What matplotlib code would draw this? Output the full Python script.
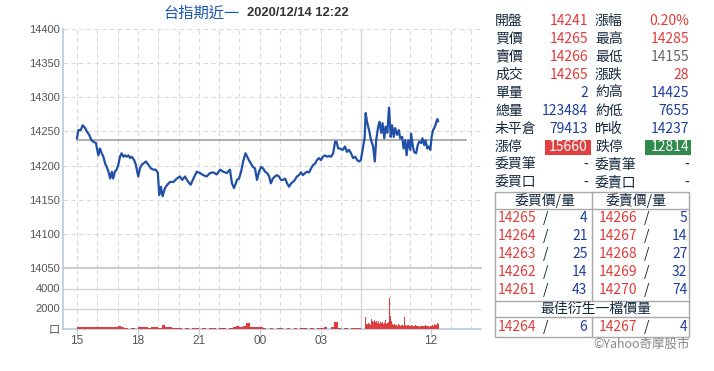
import matplotlib
matplotlib.use("Agg")
import matplotlib.pyplot as plt
from matplotlib.patches import Rectangle
from matplotlib.lines import Line2D

# ---------------- data ----------------
prev_close = 14237
# night session: minutes after 15:00
night_min = [0, 4, 11, 17, 24, 29, 36, 43, 48, 56,
             63, 68, 73, 78, 83, 88, 93, 98, 103, 107,
             112, 117, 122, 127, 132, 137, 142, 147, 152, 157,
             162, 169, 174, 181, 186, 191, 196, 204, 211, 218,
             226, 233, 239, 243, 248, 253, 260, 267, 275, 285,
             295, 304, 311, 319, 329, 336, 344, 354, 364, 373,
             383, 393, 403, 413, 423, 432, 443, 452, 458, 464,
             468, 473, 479, 485, 491, 498, 503, 508, 514, 520,
             526, 532, 538, 544, 550, 556, 562, 568, 573, 579,
             585, 591, 597, 603, 609, 615, 621, 627, 633, 638,
             644, 650, 656, 662, 668, 674, 680, 686, 692, 698,
             704, 709, 715, 721, 727, 733, 739, 745, 751, 757,
             763, 767, 772, 777, 786, 792, 798, 804, 810, 816,
             822, 828, 834, 839]
night_price = [14240, 14252, 14252, 14259, 14255, 14250, 14245, 14237, 14235, 14233,
               14215, 14225, 14218, 14213, 14203, 14198, 14191, 14181, 14191, 14181,
               14191, 14194, 14201, 14213, 14218, 14213, 14215, 14213, 14215, 14211,
               14213, 14208, 14201, 14184, 14196, 14201, 14203, 14206, 14201, 14196,
               14194, 14194, 14189, 14157, 14169, 14155, 14167, 14172, 14176, 14176,
               14181, 14184, 14179, 14184, 14176, 14172, 14181, 14191, 14189, 14186,
               14184, 14189, 14190, 14187, 14194, 14191, 14189, 14194, 14174, 14167,
               14172, 14179, 14181, 14191, 14206, 14218, 14213, 14208, 14203, 14198,
               14196, 14179, 14191, 14198, 14196, 14191, 14189, 14184, 14174, 14181,
               14184, 14186, 14184, 14179, 14179, 14181, 14174, 14169, 14174, 14176,
               14179, 14184, 14186, 14190, 14186, 14189, 14191, 14190, 14196, 14201,
               14203, 14208, 14211, 14208, 14213, 14215, 14213, 14214, 14213, 14218,
               14235, 14235, 14225, 14225, 14223, 14228, 14220, 14223, 14218, 14211,
               14213, 14208, 14206, 14208]
# day session: minutes after 08:45
day_min = [0, 3, 7, 13, 19, 25, 30, 34, 40, 44,
           49, 53, 58, 62, 67, 72, 77, 81, 86, 90,
           96, 101, 105, 111, 115, 120, 124, 129, 135, 137,
           142, 146, 152, 157, 161, 167, 171, 176, 180, 185,
           189, 194, 198, 202, 206, 209, 212, 215, 217]
day_price = [14241, 14277, 14264, 14252, 14237, 14228, 14206, 14237, 14257, 14264,
             14248, 14262, 14240, 14257, 14248, 14285, 14242, 14259, 14242, 14255,
             14245, 14252, 14240, 14242, 14225, 14237, 14215, 14237, 14223, 14247,
             14230, 14220, 14218, 14230, 14235, 14233, 14240, 14230, 14237, 14225,
             14228, 14223, 14242, 14252, 14255, 14259, 14264, 14268, 14265]
# volume: night in 10-minute bins from 15:00, day in 3-minute bins from 08:45
night_vol = [150, 200, 150, 120, 180, 150, 200, 180, 150, 200, 150, 180, 250, 150,
             80, 0, 100, 0,
             150, 120, 200, 100, 150, 120, 100,
             400,
             150, 120, 100, 80,
             100, 0, 80, 0, 100, 60, 0, 100, 0, 80, 100, 0, 60, 100, 0, 80,
             200, 250, 200, 220,
             600,
             150, 120, 150, 200,
             80, 0, 100, 0, 60, 100, 0, 80, 0, 100, 0, 80, 60, 0, 100, 0, 80,
             100, 150, 0, 120,
             700,
             80, 0, 100, 0, 80, 100, 60]
day_vol = [1200, 500, 450, 600, 500, 400, 1000, 800, 700, 900,
           650, 800, 600, 750, 500, 700, 550, 650, 500, 600,
           900, 500, 600, 700, 3100, 1300, 800, 500, 400, 450,
           350, 400, 300, 450, 350, 300, 400, 350, 300, 1200,
           350, 300, 400, 350, 300, 250, 350, 300, 250, 300,
           350, 250, 300, 250, 200, 300, 250, 300, 250, 350,
           300, 250, 300, 200, 250, 300, 350, 250, 500, 400,
           350, 550, 450]

price_ticks = [14050, 14100, 14150, 14200, 14250, 14300, 14350, 14400]
vol_ticks = [0, 2000, 4000]
vol_tick_labels = ["口", "2000", "4000"]
x_tick_labels = ["15", "18", "21", "00", "03", "12"]

left_labels = ["開盤", "買價", "賣價", "成交", "單量", "總量", "未平倉", "漲停", "委買筆", "委買口"]
left_values = ["14241", "14265", "14266", "14265", "2", "123484", "79413", "15660", "-", "-"]
right_labels = ["漲幅", "最高", "最低", "漲跌", "約高", "約低", "昨收", "跌停", "委賣筆", "委賣口"]
right_values = ["0.20%", "14285", "14155", "28", "14425", "7655", "14237", "12814", "-", "-"]
bid_prices = ["14265", "14264", "14263", "14262", "14261"]
bid_qty = ["4", "21", "25", "14", "43"]
ask_prices = ["14266", "14267", "14268", "14269", "14270"]
ask_qty = ["5", "14", "27", "32", "74"]
best_bid = ("14264", "6")
best_ask = ("14267", "4")

# ---------------- styling ----------------
W, H = 714, 371
GAP = 0.17  # hours between 05:00 and 08:45 on the axis
RED = "#e23b3b"
BLUE = "#1d3f9e"
NAVY = "#14283c"
LINE = "#2150a8"
AXC = "#b7cbe2"
GRID = "#d9d9d9"
CJK = ["Noto Sans CJK TC", "DejaVu Sans"]
LAT = ["Liberation Sans", "DejaVu Sans"]


def fx(px):
    return px / W


def fy(py):
    return 1 - py / H


def night_x(m):
    return m / 60.0


def day_x(m):
    return 14 + GAP + m / 60.0


fig = plt.figure(figsize=(W / 100, H / 100), dpi=100)
fig.patch.set_facecolor("white")

x_left = (63 - 77) / 20.3
x_right = (481 - 77) / 20.3

axp = fig.add_axes([fx(63), fy(268), fx(481) - fx(63), fy(29) - fy(268)])
axv = fig.add_axes([fx(63), fy(328.5), fx(481) - fx(63), fy(268) - fy(328.5)])

for ax in (axp, axv):
    ax.set_xlim(x_left, x_right)
    for s in ("top", "right", "bottom"):
        ax.spines[s].set_visible(False)
    ax.spines["left"].set_color(AXC)
    ax.spines["left"].set_linewidth(1.2)
    ax.tick_params(axis="y", length=0, labelsize=8, colors="#555555", pad=2)
    for h in range(0, 14):
        ax.axvline(h, color=GRID, lw=0.8, ls=(0, (4, 3)), zorder=0)
    ax.axvline(14, color="#d4d4d4", lw=1.0, zorder=0)
    for t in (10, 11, 12, 13, 14):
        ax.axvline(day_x((t - 8.75) * 60), color=GRID, lw=0.8, ls=(0, (4, 3)), zorder=0)

# price panel
axp.set_ylim(14050, 14400)
axp.set_yticks(price_ticks)
axp.set_yticklabels([str(v) for v in price_ticks], family=LAT)
for v in price_ticks[1:]:
    axp.axhline(v, color=GRID, lw=0.8, ls=(0, (4, 3)), zorder=0)
axp.set_xticks([])
axp.plot([night_x(0), day_x(300)], [prev_close, prev_close], color="#a0a0a0", lw=1.2, zorder=1)
xs = [night_x(m) for m in night_min] + [day_x(m) for m in day_min]
ys = night_price + day_price
axp.plot(xs, ys, color=LINE, lw=1.6, zorder=3)

# volume panel
axv.set_ylim(0, 6050)
axv.spines["top"].set_visible(True)
axv.spines["top"].set_color("#cccccc")
axv.spines["top"].set_linewidth(1.5)
axv.spines["bottom"].set_visible(True)
axv.spines["bottom"].set_color(AXC)
axv.spines["bottom"].set_linewidth(1.2)
axv.spines["bottom"].set_zorder(1)
for v in (2000, 4000):
    axv.axhline(v, color="#d6d6d6", lw=1.0, zorder=0)
axv.set_yticks(vol_ticks)
axv.set_yticklabels(vol_tick_labels)
for lab, txt in zip(axv.get_yticklabels(), vol_tick_labels):
    lab.set_family(CJK if txt == "口" else LAT)
nx = [night_x(i * 10) for i in range(len(night_vol))]
axv.bar(nx, night_vol, width=10 / 60, align="edge", color=RED, lw=0, zorder=4)
dx = [day_x(i * 3) for i in range(len(day_vol))]
axv.bar(dx, day_vol, width=3 / 60, align="edge", color=RED, lw=0, zorder=4)
xt = [0, 3, 6, 9, 12, day_x((12 - 8.75) * 60)]
axv.set_xticks(xt)
axv.set_xticklabels(x_tick_labels, family=LAT, fontsize=8.5, color="#555555")
axv.tick_params(axis="x", length=4, color=AXC, pad=1)

# title
fig.text(fx(163), fy(13), "台指期近一", family=CJK, fontsize=11, color="#1a55b0",
         ha="left", va="center")
fig.text(fx(247), fy(13), "2020/12/14 12:22", family=LAT, fontsize=9.3, color="#333333",
         fontweight="bold", ha="left", va="center")

# quote panel
row_y = [20.7 + 18.02 * i for i in range(10)]
left_colors = [RED, RED, RED, RED, BLUE, BLUE, BLUE, "white", NAVY, NAVY]
right_colors = [RED, RED, "#666666", RED, BLUE, BLUE, BLUE, "white", NAVY, NAVY]
fig.add_artist(Rectangle((fx(545), fy(154.5)), fx(591) - fx(545), fy(140) - fy(154.5),
                         transform=fig.transFigure, color="#e04040", lw=0))
fig.add_artist(Rectangle((fx(645), fy(154.5)), fx(691) - fx(645), fy(140) - fy(154.5),
                         transform=fig.transFigure, color="#2f8a4c", lw=0))
for i in range(10):
    fig.text(fx(495), fy(row_y[i]), left_labels[i], family=CJK, fontsize=10, color=NAVY,
             ha="left", va="center")
    fig.text(fx(588), fy(row_y[i]), left_values[i], family=CJK, fontsize=10,
             color=left_colors[i], ha="right", va="center")
    fig.text(fx(595), fy(row_y[i]), right_labels[i], family=CJK, fontsize=10, color=NAVY,
             ha="left", va="center")
    fig.text(fx(689), fy(row_y[i]), right_values[i], family=CJK, fontsize=10,
             color=right_colors[i], ha="right", va="center")

# order book table
TB = "#a8a8a8"
fig.add_artist(Rectangle((fx(495), fy(336.7)), fx(689.3) - fx(495), fy(191.7) - fy(336.7),
                         transform=fig.transFigure, fill=False, ec=TB, lw=1))
for yy in (209.3, 300.7, 316.7):
    fig.add_artist(Line2D([fx(495), fx(689.3)], [fy(yy), fy(yy)], transform=fig.transFigure,
                          color=TB, lw=1))
for (y0, y1) in ((191.7, 300.7), (316.7, 336.7)):
    fig.add_artist(Line2D([fx(591.7), fx(591.7)], [fy(y0), fy(y1)], transform=fig.transFigure,
                          color=TB, lw=1))
fig.text(fx(545), fy(201), "委買價/量", family=CJK, fontsize=10, color=NAVY, ha="center", va="center")
fig.text(fx(636), fy(201), "委賣價/量", family=CJK, fontsize=10, color=NAVY, ha="center", va="center")
book_y = [218.3 + 18 * i for i in range(5)]


def book_row(y, bp, bq, ap, aq):
    fig.text(fx(498), fy(y), bp, family=CJK, fontsize=10, color=RED, ha="left", va="center")
    fig.text(fx(546), fy(y), "/", family=CJK, fontsize=10, color=NAVY, ha="center", va="center")
    fig.text(fx(587.5), fy(y), bq, family=CJK, fontsize=10, color=BLUE, ha="right", va="center")
    fig.text(fx(599), fy(y), ap, family=CJK, fontsize=10, color=RED, ha="left", va="center")
    fig.text(fx(647), fy(y), "/", family=CJK, fontsize=10, color=NAVY, ha="center", va="center")
    fig.text(fx(687.5), fy(y), aq, family=CJK, fontsize=10, color=BLUE, ha="right", va="center")


for i in range(5):
    book_row(book_y[i], bid_prices[i], bid_qty[i], ask_prices[i], ask_qty[i])
fig.text(fx(596), fy(308.5), "最佳衍生一檔價量", family=CJK, fontsize=10, color=NAVY,
         ha="center", va="center")
book_row(326.7, best_bid[0], best_bid[1], best_ask[0], best_ask[1])
fig.text(fx(690), fy(344.5), "©Yahoo奇摩股市", family=CJK, fontsize=9, color="#888888",
         ha="right", va="center")

fig.savefig("out.png", dpi=100, facecolor="white")
